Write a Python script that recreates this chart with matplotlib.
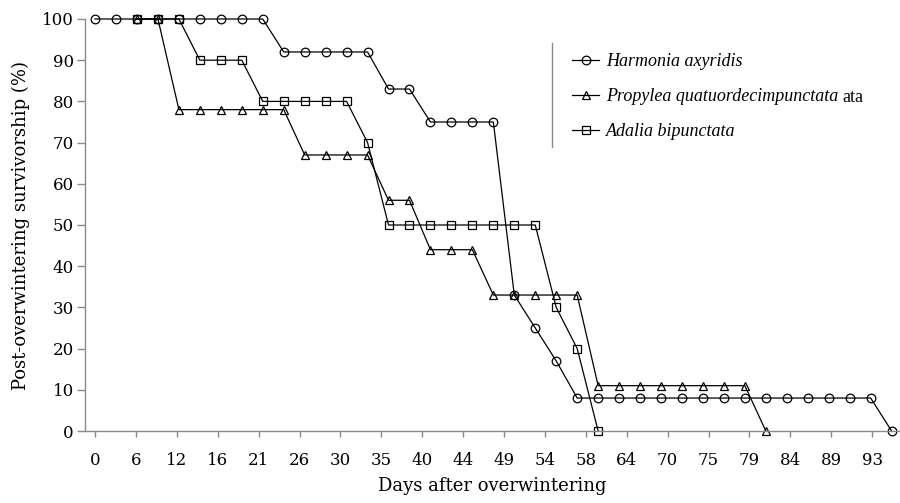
import numpy as np
import matplotlib
matplotlib.use('Agg')
import matplotlib.pyplot as plt
from matplotlib.lines import Line2D

# Survival (%), one value per sampling occasion
nan = np.nan
harmonia = [100, 100, 100, 100, 100, 100, 100, 100, 100,
            92, 92, 92, 92, 92, 83, 83, 75, 75, 75, 75,
            33, 25, 17, 8, 8, 8, 8, 8, 8, 8, 8, 8, 8, 8, 8, 8, 8, 8, 0]
propylea = [nan, nan, 100, 100, 78, 78, 78, 78, 78, 78,
            67, 67, 67, 67, 56, 56, 44, 44, 44, 33, 33, 33, 33, 33,
            11, 11, 11, 11, 11, 11, 11, 11, 0]
adalia = [nan, nan, 100, 100, 100, 90, 90, 90, 80, 80, 80, 80, 80,
          70, 50, 50, 50, 50, 50, 50, 50, 50, 30, 20, 0]

day_labels = ['0', '6', '12', '16', '21', '26', '30', '35', '40', '44',
              '49', '54', '58', '64', '70', '75', '79', '84', '89', '93']
series_names = ['Harmonia axyridis', 'Propylea quatuordecimpunctata', 'Adalia bipunctata']

serif = 'DejaVu Serif'
fig = plt.figure(figsize=(9, 5.03), dpi=100)
ax = fig.add_axes([85 / 900, 72 / 503, 815 / 900, 412 / 503])

styles = [('o', 6.2), ('^', 6.2), ('s', 6.0)]
handles = []
for vals, (mk, ms), name in zip([harmonia, propylea, adalia], styles, series_names):
    x = np.arange(len(vals))
    h, = ax.plot(x, vals, color='black', linewidth=0.9, marker=mk, markersize=ms,
                 markerfacecolor='none', markeredgecolor='black', markeredgewidth=0.9,
                 clip_on=False, label=name)
    handles.append(h)

ax.set_xlim(-0.48, 38.4)
ax.set_ylim(0, 100)
ax.set_yticks(range(0, 101, 10))
ax.set_xticks(np.linspace(0, 37.07, len(day_labels)))
ax.set_xticklabels(day_labels)

for s in ['top', 'right']:
    ax.spines[s].set_visible(False)
for s in ['left', 'bottom']:
    ax.spines[s].set_color('#8a8a8a')
    ax.spines[s].set_linewidth(1.0)

ax.tick_params(axis='y', direction='out', length=6, width=1, color='#8a8a8a', pad=2,
               labelsize=12, labelfontfamily=serif)
ax.tick_params(axis='x', direction='out', length=4, width=1, color='#8a8a8a', pad=11,
               labelsize=12, labelfontfamily=serif)

ax.set_xlabel('Days after overwintering', fontsize=13, family=serif, labelpad=6)
ax.set_ylabel('Post-overwintering survivorship (%)', fontsize=13, family=serif, labelpad=9)

# legend on the right, with the thin separator line on its left
leg = fig.legend(handles, series_names, loc='upper left',
                 bbox_to_anchor=(572 / 900, 1 - 53 / 503), frameon=False,
                 prop={'family': 'Liberation Serif', 'style': 'italic', 'size': 13},
                 handlelength=1.5, handletextpad=0.4, labelspacing=1.0,
                 borderpad=0, borderaxespad=0)
fig.add_artist(Line2D([552 / 900, 552 / 900], [1 - 43 / 503, 1 - 147 / 503],
                      color='#8a8a8a', linewidth=1.0))
fig.text(842 / 900, 1 - 97 / 503, 'ata', fontsize=13, family='Liberation Serif',
         va='center', ha='left')

fig.savefig('out.png', dpi=100)
